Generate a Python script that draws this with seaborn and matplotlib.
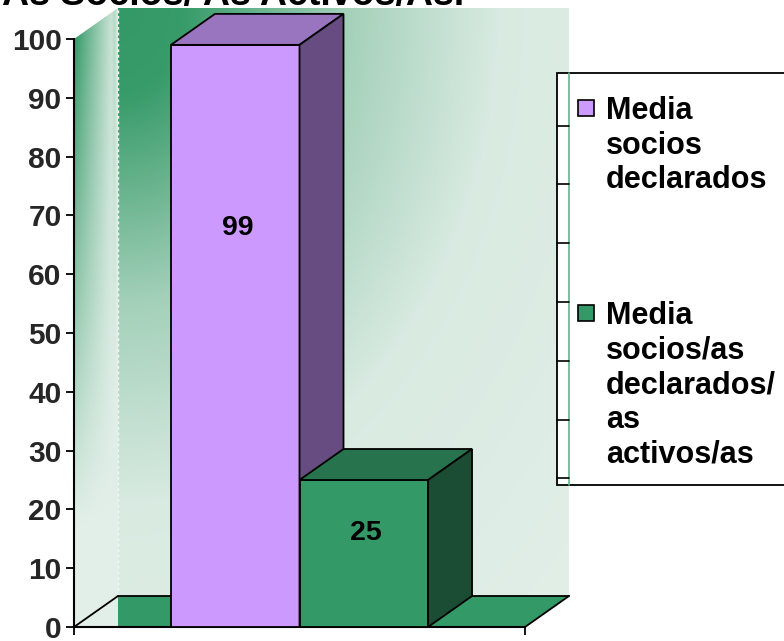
import numpy as np
import pandas as pd
import matplotlib
matplotlib.use("Agg")
import matplotlib.pyplot as plt
from matplotlib.patches import Polygon, Rectangle
from matplotlib.lines import Line2D
from matplotlib.colors import to_rgb
import seaborn as sns

# datos del grafico
series = ["Media socios declarados", "Media socios/as declarados/as activos/as"]
valores = [99, 25]
lineas_leyenda = [["Media", "socios", "declarados"],
                  ["Media", "socios/as", "declarados/", "as", "activos/as"]]
colores = ["#CC99FF", "#339966"]
colores_arriba = ["#9975BF", "#26734D"]
colores_lado = ["#664C80", "#1A4D33"]
titulo = "As Socios/ As Activos/As."
yticks = list(range(0, 101, 10))

W, H = 784, 641
sns.set_theme(style="white")
plt.rcParams['font.family'] = ['Liberation Sans', 'DejaVu Sans']
plt.rcParams['font.weight'] = 'bold'


def fx(x):
    return x / W


def fy(y):
    return 1 - y / H


fig = plt.figure(figsize=(W / 100, H / 100), dpi=100)
fig.patch.set_facecolor("white")
# plano frontal del grafico 3D (pixeles 74..525, 39..627)
ax = fig.add_axes([fx(74), fy(627), 451 / W, 588 / H])
ax.set_facecolor("none")

df = pd.DataFrame({"grupo": ["Media"] * len(series), "serie": series, "valor": valores})
sns.barplot(data=df, x="grupo", y="valor", hue="serie", palette=colores,
            width=0.57, saturation=1, edgecolor="black", linewidth=1.3,
            errorbar=None, legend=False, ax=ax)

# profundidad del efecto 3D
dx = 44 / 451
dy = 31 / 588 * 100

dark = np.array(to_rgb("#339966"))
light = np.array(to_rgb("#E2EFE8"))

# pared del fondo con degradado
u = np.linspace(0, 1, 300)
U, V = np.meshgrid(u, u)
r = np.sqrt(U ** 2 + V ** 2)
t = np.interp(r, [0, 0.15, 0.5, 0.85, 1.5], [0, 0.03, 0.64, 0.95, 1])
img = dark + (light - dark) * t[..., None]
ax.imshow(img, extent=[-0.5 + dx, 0.5 + dx, dy, 100 + dy], origin="upper",
          aspect="auto", zorder=0, clip_on=False, interpolation="bilinear")

# pared lateral
ys = np.linspace(100 + dy, 0, 400)
xs = np.linspace(0, 1, 100)
S, Y = np.meshgrid(xs, ys)
vtop = np.clip((100 + S * dy - Y) / 100, 0, 1)
t2 = 1 - (1 - S) * (1 - np.clip(1.2 * vtop, 0, 1))
t2 = t2 - 0.18 * np.exp(-((S - 0.93) / 0.05) ** 2) * (1 - np.clip(1.5 * vtop, 0, 1))
img2 = dark + (light - dark) * np.clip(t2, 0, 1)[..., None]
im2 = ax.imshow(img2, extent=[-0.5, -0.5 + dx, 0, 100 + dy], origin="upper",
                aspect="auto", zorder=0, interpolation="bilinear")
lado = Polygon([(-0.5, 0), (-0.5, 100), (-0.5 + dx, 100 + dy), (-0.5 + dx, dy)],
               closed=True, transform=ax.transData)
im2.set_clip_path(lado)
im2.set_clip_box(fig.bbox)
ax.plot([-0.5 + dx] * 2, [dy, 100 + dy], color="#F2F8F4", lw=1, ls=(0, (2, 2)),
        zorder=0.5, clip_on=False)

# suelo
ax.add_patch(Polygon([(-0.5, 0), (-0.5 + dx, dy), (-0.5 + dx, 0)], closed=True,
                     fc="#E2EFE8", ec="none", zorder=0.8, clip_on=False))
ax.add_patch(Polygon([(-0.5 + dx, 0), (-0.5 + dx, dy), (0.5 + dx, dy), (0.5, 0)],
                     closed=True, fc="#339966", ec="none", zorder=1, clip_on=False))
ax.plot([-0.5 + dx, 0.5 + dx], [dy, dy], color="black", lw=1.3, zorder=1.1, clip_on=False)
ax.plot([-0.5, -0.5 + dx], [0, dy], color="black", lw=1.3, zorder=1.1, clip_on=False)
ax.plot([0.5, 0.5 + dx], [0, dy], color="black", lw=1.3, zorder=1.1, clip_on=False)

# caras superior y lateral de las barras
barras = sorted([p for p in ax.patches if isinstance(p, Rectangle)], key=lambda p: p.get_x())
for i, p in enumerate(barras):
    z = 3 + 2 * i
    p.set_zorder(z)
    x0, x1, h = p.get_x(), p.get_x() + p.get_width(), p.get_height()
    ax.add_patch(Polygon([(x0, h), (x1, h), (x1 + dx, h + dy), (x0 + dx, h + dy)],
                         closed=True, fc=colores_arriba[i], ec="black", lw=1.3,
                         zorder=z, clip_on=False, joinstyle="miter"))
    ax.add_patch(Polygon([(x1, 0), (x1, h), (x1 + dx, h + dy), (x1 + dx, dy)],
                         closed=True, fc=colores_lado[i], ec="black", lw=1.3,
                         zorder=z, clip_on=False, joinstyle="miter"))
    ax.text((x0 + x1) / 2 + 0.005, 0.7 * h - 1.5, str(valores[i]), ha="center",
            va="center", fontsize=20.5, fontweight="bold", color="black", zorder=z + 1)

ax.set_xlim(-0.5, 0.5)
ax.set_ylim(0, 100)
ax.set_yticks(yticks)
ax.set_yticklabels([str(v) for v in yticks])
ax.set_xticks([-0.5, 0.5])
ax.set_xticklabels(["", ""])
ax.set_xlabel("")
ax.set_ylabel("")
ax.tick_params(axis="both", direction="out", length=6, width=1.3, color="black",
               left=True, bottom=True, pad=3)
ax.tick_params(axis="y", labelsize=21.5)
for lbl in ax.get_yticklabels():
    lbl.set_fontweight("bold")
for s in ["top", "right"]:
    ax.spines[s].set_visible(False)
for s in ["left", "bottom"]:
    ax.spines[s].set_color("black")
    ax.spines[s].set_linewidth(1.5)
    ax.spines[s].set_zorder(2)

# titulo (cortado en la parte superior como en el original)
fig.text(fx(464), fy(5), titulo, ha="right", va="baseline", fontsize=27,
         fontweight="bold", color="black")

# leyenda
fig.patches.append(Rectangle((fx(557), fy(485)), fx(800) - fx(557), fy(73) - fy(485),
                             transform=fig.transFigure, fc="white", ec="black",
                             lw=1.3, zorder=10))
fig.lines.append(Line2D([fx(569), fx(569)], [fy(73), fy(485)], transform=fig.transFigure,
                        color="#5CB88A", lw=1.2, zorder=11))
for v in yticks:
    yp = 627 - (v + dy) * 5.88
    if 73 < yp < 485:
        fig.lines.append(Line2D([fx(557), fx(569)], [fy(yp), fy(yp)],
                                transform=fig.transFigure, color="black", lw=1.2, zorder=11))

tops = [100, 305]
for i, lineas in enumerate(lineas_leyenda):
    fig.patches.append(Rectangle((fx(578), fy(tops[i] + 16)), 16 / W, 16 / H,
                                 transform=fig.transFigure, fc=colores[i], ec="black",
                                 lw=1.2, zorder=12))
    for j, linea in enumerate(lineas):
        fig.text(fx(606), fy(tops[i] + 19 + j * 34.6), linea, ha="left", va="baseline",
                 fontsize=22, fontweight="bold", color="black", zorder=12)

fig.savefig("out.png", dpi=100)
